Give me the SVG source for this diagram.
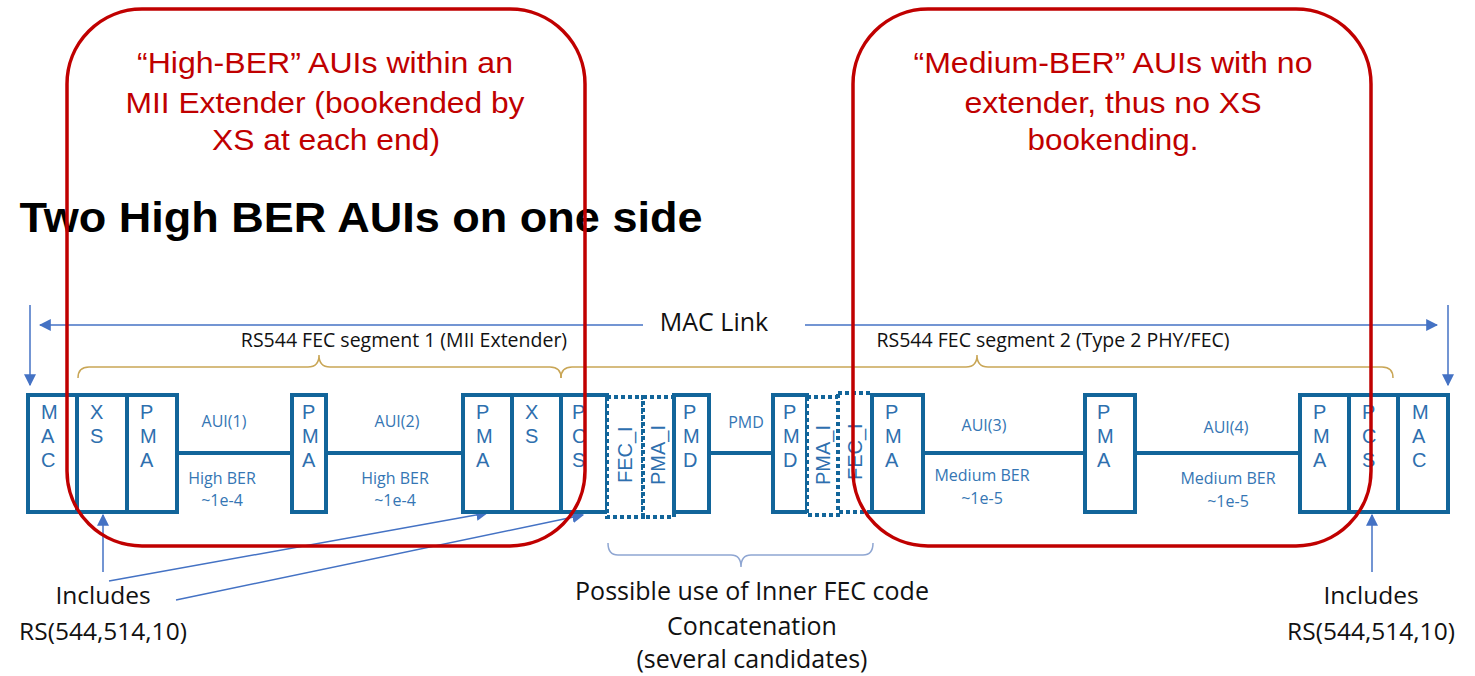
<svg xmlns="http://www.w3.org/2000/svg" width="1475" height="676" viewBox="0 0 1475 676">
<defs>
<style>
.box{fill:#fff;stroke:#12659a;stroke-width:4}
.dot{fill:#fff;stroke:#12659a;stroke-width:4;stroke-dasharray:4 3}
.wire{stroke:#12659a;stroke-width:4;fill:none}
.bl{font-family:"Liberation Sans",Arial,sans-serif;font-size:20px;fill:#2e6fae}
.lab{font-family:"Open Sans","Liberation Sans",sans-serif;font-size:16px;fill:#3576b4;text-anchor:middle}
.blk{font-family:"Open Sans","Liberation Sans",sans-serif;fill:#111;text-anchor:middle}
.red{font-family:"Liberation Sans",Arial,sans-serif;font-size:30px;fill:#c00000;text-anchor:middle}
.redbox{fill:none;stroke:#c00000;stroke-width:3.5}
.arr{stroke:#4472c4;stroke-width:1.5;fill:none}
.gold{stroke:#c9a656;stroke-width:1.5;fill:none}
.grey{stroke:#8fa6d2;stroke-width:1.5;fill:none}
</style>
<marker id="ahb" viewBox="0 0 10 10" refX="9" refY="5" markerWidth="12" markerHeight="12" markerUnits="userSpaceOnUse" orient="auto">
<path d="M0,0 L10,5 L0,10 z" fill="#4472c4"/>
</marker>
</defs>
<rect width="1475" height="676" fill="#fff"/>

<text x="361" y="232" font-family="Liberation Sans,Arial,sans-serif" font-weight="bold" font-size="42" fill="#000" text-anchor="middle" textLength="683" lengthAdjust="spacingAndGlyphs">Two High BER AUIs on one side</text>

<g id="connectors">
<line class="wire" x1="177" y1="453" x2="292" y2="453"/>
<line class="wire" x1="326" y1="453" x2="463" y2="453"/>
<line class="wire" x1="709" y1="453" x2="773" y2="453"/>
<line class="wire" x1="923" y1="453" x2="1085" y2="453"/>
<line class="wire" x1="1135" y1="453" x2="1300" y2="453"/>
<line class="arr" x1="643" y1="325" x2="40" y2="325" marker-end="url(#ahb)"/>
<line class="arr" x1="805" y1="325" x2="1437" y2="325" marker-end="url(#ahb)"/>
<line class="arr" x1="30" y1="305" x2="30" y2="385" marker-end="url(#ahb)"/>
<line class="arr" x1="1448" y1="305" x2="1448" y2="385" marker-end="url(#ahb)"/>
<line class="arr" x1="103" y1="572" x2="103" y2="515" marker-end="url(#ahb)"/>
<line class="arr" x1="1372" y1="572" x2="1372" y2="515" marker-end="url(#ahb)"/>
<line class="arr" x1="109" y1="581" x2="487" y2="513" marker-end="url(#ahb)"/>
<line class="arr" x1="176" y1="600" x2="583" y2="515" marker-end="url(#ahb)"/>
<path class="gold" d="M78,378 Q78,367 89,367 L308,367 Q319,367 319,355 Q319,367 330,367 L550,367 Q561,367 561,378"/>
<path class="gold" d="M561,378 Q561,367 572,367 L966,367 Q977,367 977,355 Q977,367 988,367 L1382,367 Q1393,367 1393,378"/>
<path class="grey" d="M608,543 Q608,555 618,555 L731,555 Q741,555 741,567 Q741,555 751,555 L863,555 Q873,555 873,543"/>
</g>

<g id="labels">
<text class="blk" x="714" y="331" font-size="25">MAC Link</text>
<text class="blk" x="404" y="347" font-size="19.5">RS544 FEC segment 1 (MII Extender)</text>
<text class="blk" x="1053" y="347" font-size="19.5">RS544 FEC segment 2 (Type 2 PHY/FEC)</text>
<text class="lab" x="224" y="427" font-size="17">AUI(1)</text>
<text class="lab" x="222" y="484">High BER</text>
<text class="lab" x="222" y="506">~1e-4</text>
<text class="lab" x="397" y="427" font-size="17">AUI(2)</text>
<text class="lab" x="395" y="484">High BER</text>
<text class="lab" x="395" y="506">~1e-4</text>
<text class="lab" x="746" y="428" font-size="15">PMD</text>
<text class="lab" x="984" y="431" font-size="17">AUI(3)</text>
<text class="lab" x="982" y="481">Medium BER</text>
<text class="lab" x="982" y="504">~1e-5</text>
<text class="lab" x="1226" y="433" font-size="17">AUI(4)</text>
<text class="lab" x="1228" y="484">Medium BER</text>
<text class="lab" x="1228" y="507">~1e-5</text>
<text class="blk" font-size="24.5"><tspan x="103" y="604">Includes</tspan><tspan x="103" y="640">RS(544,514,10)</tspan></text>
<text class="blk" font-size="24.5"><tspan x="1371" y="604">Includes</tspan><tspan x="1371" y="640">RS(544,514,10)</tspan></text>
<text class="blk" font-size="25"><tspan x="752" y="600">Possible use of Inner FEC code</tspan><tspan x="752" y="635">Concatenation</tspan><tspan x="752" y="668">(several candidates)</tspan></text>
</g>

<g id="mac-left"><rect class="box" x="28" y="395" width="49" height="117"/><text class="bl"><tspan x="41" y="419">M</tspan><tspan x="41" y="443">A</tspan><tspan x="41" y="467">C</tspan></text></g>
<g id="xs-left"><rect class="box" x="77" y="395" width="50" height="117"/><text class="bl"><tspan x="90" y="419">X</tspan><tspan x="90" y="443">S</tspan></text></g>
<g id="pma-1"><rect class="box" x="127" y="395" width="50" height="117"/><text class="bl"><tspan x="140" y="419">P</tspan><tspan x="140" y="443">M</tspan><tspan x="140" y="467">A</tspan></text></g>
<g id="pma-2"><rect class="box" x="292" y="395" width="34" height="117"/><text class="bl"><tspan x="302" y="419">P</tspan><tspan x="302" y="443">M</tspan><tspan x="302" y="467">A</tspan></text></g>
<g id="pma-3"><rect class="box" x="463" y="395" width="49" height="117"/><text class="bl"><tspan x="476" y="419">P</tspan><tspan x="476" y="443">M</tspan><tspan x="476" y="467">A</tspan></text></g>
<g id="xs-right"><rect class="box" x="512" y="395" width="49" height="117"/><text class="bl"><tspan x="525" y="419">X</tspan><tspan x="525" y="443">S</tspan></text></g>
<g id="pcs-1"><rect class="box" x="561" y="395" width="46" height="117"/><text class="bl"><tspan x="572" y="419">P</tspan><tspan x="572" y="443">C</tspan><tspan x="572" y="467">S</tspan></text></g>
<g id="fec-i-1"><rect class="dot" x="607" y="397" width="36" height="120"/><text class="bl" transform="translate(632,483) rotate(-90)">FEC_I</text></g>
<g id="pma-i-1"><rect class="dot" x="643" y="397" width="31" height="120"/><text class="bl" transform="translate(665,485) rotate(-90)">PMA_I</text></g>
<g id="pmd-1"><rect class="box" x="674" y="395" width="35" height="117"/><text class="bl"><tspan x="683" y="419">P</tspan><tspan x="683" y="443">M</tspan><tspan x="683" y="467">D</tspan></text></g>
<g id="pmd-2"><rect class="box" x="773" y="395" width="34" height="117"/><text class="bl"><tspan x="783" y="419">P</tspan><tspan x="783" y="443">M</tspan><tspan x="783" y="467">D</tspan></text></g>
<g id="pma-i-2"><rect class="dot" x="807" y="397" width="31" height="118"/><text class="bl" transform="translate(830,485) rotate(-90)">PMA_I</text></g>
<g id="fec-i-2"><rect class="dot" x="838" y="393" width="34" height="119"/><text class="bl" transform="translate(862,480) rotate(-90)">FEC_I</text></g>
<g id="pma-4"><rect class="box" x="872" y="395" width="51" height="117"/><text class="bl"><tspan x="885" y="419">P</tspan><tspan x="885" y="443">M</tspan><tspan x="885" y="467">A</tspan></text></g>
<g id="pma-5"><rect class="box" x="1085" y="395" width="50" height="117"/><text class="bl"><tspan x="1097" y="419">P</tspan><tspan x="1097" y="443">M</tspan><tspan x="1097" y="467">A</tspan></text></g>
<g id="pma-6"><rect class="box" x="1300" y="395" width="49" height="117"/><text class="bl"><tspan x="1313" y="419">P</tspan><tspan x="1313" y="443">M</tspan><tspan x="1313" y="467">A</tspan></text></g>
<g id="pcs-2"><rect class="box" x="1349" y="395" width="49" height="117"/><text class="bl"><tspan x="1362" y="419">P</tspan><tspan x="1362" y="443">C</tspan><tspan x="1362" y="467">S</tspan></text></g>
<g id="mac-right"><rect class="box" x="1398" y="395" width="50" height="117"/><text class="bl"><tspan x="1412" y="419">M</tspan><tspan x="1412" y="443">A</tspan><tspan x="1412" y="467">C</tspan></text></g>

<g id="high-ber-region">
<rect class="redbox" x="67" y="9" width="518" height="537" rx="75" ry="75"/>
<text class="red"><tspan x="325" y="73" textLength="376" lengthAdjust="spacingAndGlyphs">“High-BER” AUIs within an</tspan><tspan x="325" y="113" textLength="399" lengthAdjust="spacingAndGlyphs">MII Extender (bookended by</tspan><tspan x="326" y="150" textLength="228" lengthAdjust="spacingAndGlyphs">XS at each end)</tspan></text>
</g>
<g id="medium-ber-region">
<rect class="redbox" x="853" y="9" width="518" height="537" rx="75" ry="75"/>
<text class="red"><tspan x="1113" y="73" textLength="399" lengthAdjust="spacingAndGlyphs">“Medium-BER” AUIs with no</tspan><tspan x="1113" y="113" textLength="297" lengthAdjust="spacingAndGlyphs">extender, thus no XS</tspan><tspan x="1113" y="150" textLength="171" lengthAdjust="spacingAndGlyphs">bookending.</tspan></text>
</g>
</svg>
